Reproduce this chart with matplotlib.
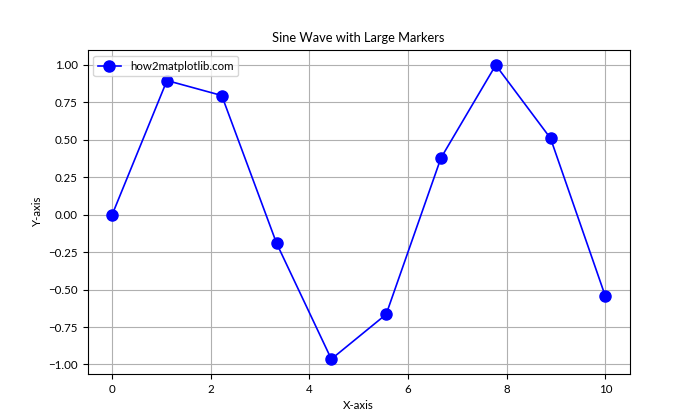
import matplotlib
matplotlib.use('Agg')
import matplotlib.pyplot as plt

plt.rcParams['font.family'] = ['Lato', 'DejaVu Sans']
plt.rcParams['font.size'] = 8.3

# 그래프 데이터
x_values = [0.0, 1.111, 2.222, 3.333, 4.444, 5.556, 6.667, 7.778, 8.889, 10.0]
y_values = [0.0, 0.896, 0.796, -0.190, -0.964, -0.665, 0.379, 0.999, 0.510, -0.544]

plt.figure(figsize=(7, 4.2), dpi=100)
plt.plot(x_values, y_values, marker='o', markersize=8, linewidth=1.2,
         color='blue', label='how2matplotlib.com')
plt.title('Sine Wave with Large Markers', fontsize=9.3)
plt.xlabel('X-axis')
plt.ylabel('Y-axis')
plt.legend(loc='upper left')
plt.grid(True)

plt.savefig('out.png')
